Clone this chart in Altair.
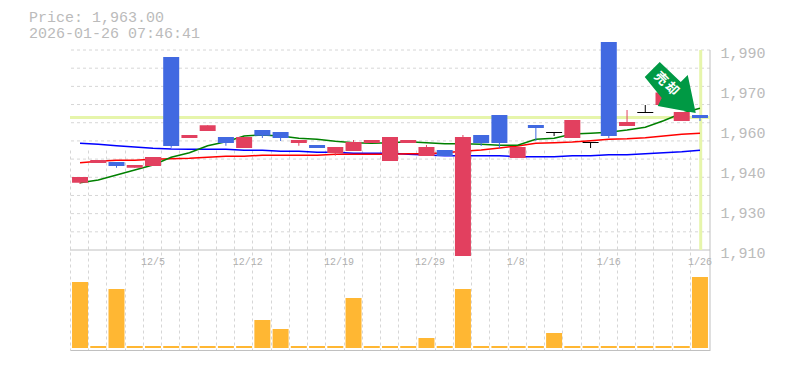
import altair as alt
import pandas as pd

opens = [1939.2,1946.0,1945.2,1944.0,1947.2,1987.2,1956.0,1959.9,1955.2,1955.2,1958.0,1957.2,1954.0,1952.0,1951.2,1953.2,1954.0,1955.2,
         1954.0,1951.2,1950.0,1955.2,1956.0,1964.0,1951.2,1960.0,1957.2,1962.0,1953.2,1993.2,1961.2,1965.2,1973.0,1965.2,1964.0]
closes = [1936.9,1944.8,1943.6,1942.9,1943.6,1951.6,1954.8,1957.6,1952.8,1950.8,1955.7,1954.8,1952.8,1950.8,1948.8,1949.6,1952.8,1945.6,
          1952.8,1947.6,1947.6,1907.6,1952.8,1952.8,1946.8,1958.8,1956.8,1954.8,1952.8,1955.6,1959.6,1964.8,1968.0,1961.6,1962.8]
highs = [1939.2,1946.0,1945.2,1944.0,1947.2,1987.2,1956.0,1959.9,1955.2,1955.2,1958.0,1957.2,1954.0,1952.0,1951.2,1954.0,1954.0,1955.2,
         1954.0,1952.0,1950.0,1956.0,1956.0,1964.0,1951.2,1960.0,1957.2,1962.0,1953.2,1993.2,1966.0,1968.0,1973.0,1965.2,1964.0]
lows = [1936.4,1944.8,1942.9,1942.9,1943.6,1950.9,1954.8,1957.6,1951.7,1950.8,1954.8,1953.6,1951.7,1950.8,1947.7,1949.6,1952.8,1945.6,
        1952.8,1947.6,1947.6,1907.6,1951.6,1950.8,1946.8,1953.6,1955.6,1954.8,1950.8,1954.8,1959.6,1964.8,1968.0,1961.6,1961.6]
colors = ["r","r","b","r","r","b","r","r","b","r","b","b","r","b","r","r","r","r",
          "r","r","b","r","b","b","r","b","k","r","k","b","r","k","r","r","b"]
ma_green = [1936.9,1938,1940,1942,1944,1947.1,1948.9,1951.7,1953.3,1955.6,1956,1955.6,1954.7,1954.3,1953.5,1952.9,1952.7,1952.9,
            1953.3,1952.9,1952.5,1952.5,1952.3,1951.9,1951.9,1954.3,1954.7,1956.4,1956.7,1957.1,1958,1959.1,1961.7,1964.7,1966.7]
ma_red = [1944.9,1945.5,1945.9,1945.9,1946.3,1946.5,1946.7,1947.1,1947.5,1947.5,1947.9,1947.9,1947.9,1947.9,1948.3,1948.3,1948.3,1948.3,
          1948.5,1948.5,1948.9,1949.5,1950,1950.8,1951.6,1952.7,1952.9,1953.2,1953.7,1954.3,1954.5,1954.9,1955.6,1956.3,1956.7]
ma_blue = [1952.7,1952.3,1951.7,1951.2,1950.7,1950.4,1950.3,1950.3,1950.3,1949.9,1949.9,1949.5,1949.5,1949.1,1949.1,1948.7,1948.7,1948.7,
           1948.3,1948,1947.7,1947.7,1947.7,1947.7,1947.3,1947.3,1947.3,1947.7,1947.7,1948.1,1948.1,1948.5,1948.9,1949.3,1949.9]
volumes = [66,2,59,2,2,2,2,2,2,2,28,19,2,2,2,50,2,2,2,10,2,59,2,2,2,2,15,2,2,2,2,2,2,2,71]
date_idx = [4,9.2,14.2,19.2,23.9,29,34]
date_labels = ["12/5","12/12","12/19","12/29","1/8","1/16","1/26"]
price_ticks = [1990,1974,1958,1942,1926,1910]
price_tick_labels = ["1,990","1,970","1,960","1,940","1,930","1,910"]
header = ["Price: 1,963.00","2026-01-26 07:46:41"]
current_price = 1963
last_idx = 34
arrow_label = ["売","却"]

GRID = "#d6d6d6"
AXIS = "#c0c0c0"
TEXT = "#bbbbbb"
YEL = "#e6f5ab"
X_DOMAIN = [-0.55, 34.55]
PRICE = alt.Scale(domain=[1910,1990], range=[200,0], nice=False, zero=False)
VOL = alt.Scale(domain=[0,100], range=[298,198], nice=False, zero=False)
XS = alt.Scale(domain=X_DOMAIN, range=[0,640], nice=False, zero=False, padding=0)
N = len(opens)

df = pd.DataFrame({"i":range(N),"o":opens,"c":closes,"h":highs,"l":lows,"col":colors,
                   "g":ma_green,"rd":ma_red,"bl":ma_blue,"v":volumes})
vgrid_vals = [-0.55 + k for k in range(35)]
XAXIS = alt.Axis(values=vgrid_vals, grid=True, gridColor=GRID, gridDash=[3,3], gridWidth=1,
                 labels=False, ticks=False, title=None, domain=True, domainColor=AXIS, domainWidth=1)
x = alt.X("i:Q", scale=XS, axis=XAXIS)
color = alt.Color("col:N", scale=alt.Scale(domain=["r","b","k"], range=["#E2405F","#4169E1","#000000"]), legend=None)

label_map = ",".join(f"{t}:'{s}'" for t, s in zip(price_ticks, price_tick_labels))
base = alt.Chart(pd.DataFrame({"i":[0],"p":[1950]})).mark_rule(opacity=0).encode(
    x=x,
    y=alt.Y("p:Q", scale=PRICE, axis=alt.Axis(values=price_ticks, labelExpr="{" + label_map + "}[datum.value]",
            orient="right", grid=False, domain=False, ticks=False, title=None, labelFont="Liberation Mono", labelFontSize=15,
            labelColor=TEXT, labelPadding=10, labelOffset=2)),
)

hgrid = alt.Chart(pd.DataFrame({"p":[1990 - k*80/11 for k in range(11)]})).mark_rule(color=GRID, strokeDash=[3,3], strokeWidth=1).encode(
    y=alt.Y("p:Q", scale=PRICE, axis=None))
floor = alt.Chart(pd.DataFrame({"p":[1910]})).mark_rule(color=AXIS, strokeWidth=1).encode(y=alt.Y("p:Q", scale=PRICE, axis=None))
right = alt.Chart(pd.DataFrame({"i":[X_DOMAIN[1]]})).mark_rule(color=AXIS, strokeWidth=1).encode(x=x)

vol = alt.Chart(df).mark_bar(color="#FFB733", size=16).encode(x=x, y=alt.Y("v:Q", scale=VOL, axis=None))

hline = alt.Chart(pd.DataFrame({"p":[current_price]})).mark_rule(color=YEL, strokeWidth=3).encode(y=alt.Y("p:Q", scale=PRICE, axis=None))
vline = alt.Chart(pd.DataFrame({"i":[last_idx+0.04],"p":[1990],"p2":[1910]})).mark_rule(color=YEL, strokeWidth=3).encode(
    x=x, y=alt.Y("p:Q", scale=PRICE, axis=None), y2="p2:Q")

def ma(field, col):
    return alt.Chart(df).mark_line(color=col, strokeWidth=1.5).encode(x=x, y=alt.Y(f"{field}:Q", scale=PRICE, axis=None))

wick = alt.Chart(df).mark_rule(strokeWidth=1).encode(x=x, y=alt.Y("h:Q", scale=PRICE, axis=None), y2="l:Q", color=color)
body = alt.Chart(df).mark_bar(size=16).encode(x=x, y=alt.Y("o:Q", scale=PRICE, axis=None), y2="c:Q", color=color)

ARROW = "M-22 -28 L-1 -8 L6 -15 L14 23 L-24 16 L-20 8 L-37 -13 Z"
arrow = alt.Chart(pd.DataFrame({"i":[33],"p":[1974]})).mark_point(shape=ARROW, size=4, filled=True, fill="#009944", opacity=1, stroke=None).encode(
    x=x, y=alt.Y("p:Q", scale=PRICE, axis=None))
arrow_txt = alt.Chart(pd.DataFrame({"i":[31.86,32.46],"p":[1978.5,1974.4],"t":arrow_label})).mark_text(
    font="Noto Sans CJK JP", fontWeight="bold", fontSize=13, color="white", angle=45).encode(
    x=x, y=alt.Y("p:Q", scale=PRICE, axis=None), text="t:N")

dates = alt.Chart(pd.DataFrame({"i":date_idx,"t":date_labels})).mark_text(
    font="Liberation Mono", fontSize=10, color="#b0b0b0").encode(x=x, y=alt.value(212), text="t:N")
head = alt.Chart(pd.DataFrame({"t":header,"yy":[-33,-17]})).mark_text(
    font="Liberation Mono", fontSize=15, color=TEXT, align="left").encode(
    x=alt.value(-41), y=alt.Y("yy:Q", scale=None, axis=None), text="t:N")

chart = alt.layer(base, hgrid, right, vol, floor, hline, vline, ma("bl","#0000ff"), ma("rd","#ff0000"), ma("g","#008000"),
                  wick, body, arrow, arrow_txt, dates, head
    ).resolve_scale(y="independent").properties(
    width=640, height=300, padding={"left":62,"top":42,"right":60,"bottom":10},
    autosize=alt.AutoSizeParams(type="none")
    ).configure_view(stroke=None)

chart.save("out.html", embed_options={"renderer": "svg", "actions": False})
